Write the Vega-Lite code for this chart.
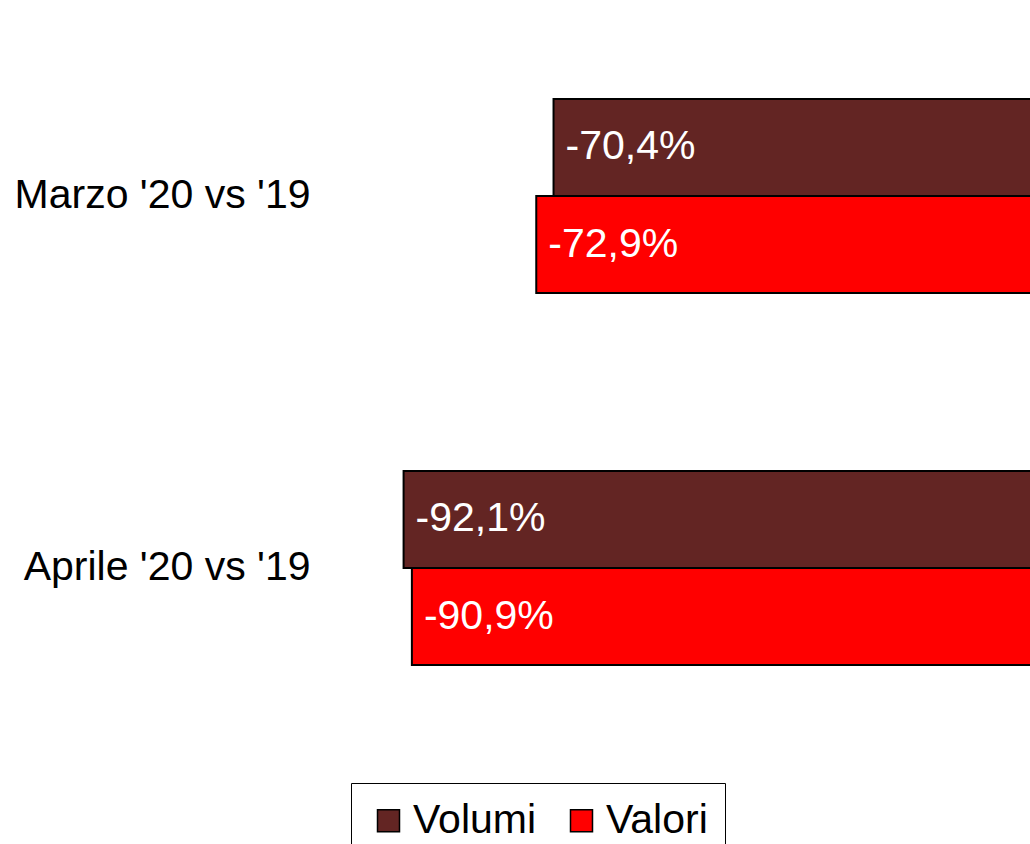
{
  "$schema": "https://vega.github.io/schema/vega-lite/v6.json",
  "autosize": {"type": "none"},
  "padding": {"left": 349, "top": 10, "right": 0, "bottom": 90},
  "width": 691,
  "height": 744,
  "background": "white",
  "config": {"view": {"stroke": null}, "font": "Liberation Sans"},
  "data": {
    "values": [
      {"periodo": "Marzo '20 vs '19", "serie": "Volumi", "valore": -70.4, "etichetta": "-70,4%"},
      {"periodo": "Marzo '20 vs '19", "serie": "Valori", "valore": -72.9, "etichetta": "-72,9%"},
      {"periodo": "Aprile '20 vs '19", "serie": "Volumi", "valore": -92.1, "etichetta": "-92,1%"},
      {"periodo": "Aprile '20 vs '19", "serie": "Valori", "valore": -90.9, "etichetta": "-90,9%"}
    ]
  },
  "encoding": {
    "y": {
      "field": "periodo", "type": "nominal", "sort": null,
      "scale": {"paddingInner": 0.478, "paddingOuter": 0.239},
      "axis": {"title": null, "domain": false, "ticks": false, "labelFontSize": 41, "labelColor": "black", "labelPadding": 39, "labelFont": "Liberation Sans", "labelLimit": 400}
    },
    "yOffset": {"field": "serie", "type": "nominal", "sort": ["Volumi", "Valori"], "scale": {"paddingInner": 0, "paddingOuter": 0}},
    "x": {
      "field": "valore", "type": "quantitative",
      "scale": {"domain": [-100, 0], "nice": false},
      "axis": null
    }
  },
  "layer": [
    {
      "mark": {"type": "bar", "stroke": "black", "strokeWidth": 2},
      "encoding": {
        "color": {
          "field": "serie", "type": "nominal",
          "scale": {"domain": ["Volumi", "Valori"], "range": ["#632523", "#FF0000"]},
          "legend": {
            "title": null, "orient": "none", "legendX": 2, "legendY": 773, "direction": "horizontal",
            "symbolType": "square", "symbolSize": 484, "symbolStrokeColor": "black", "symbolStrokeWidth": 1.5,
            "labelFontSize": 41, "labelColor": "black", "labelOffset": 4, "columnPadding": 24,
            "strokeColor": "black", "padding": 17, "labelLimit": 300
          }
        }
      }
    },
    {
      "mark": {"type": "text", "align": "left", "baseline": "middle", "dx": 12, "color": "white", "fontSize": 41},
      "encoding": {"text": {"field": "etichetta"}}
    }
  ]
}
